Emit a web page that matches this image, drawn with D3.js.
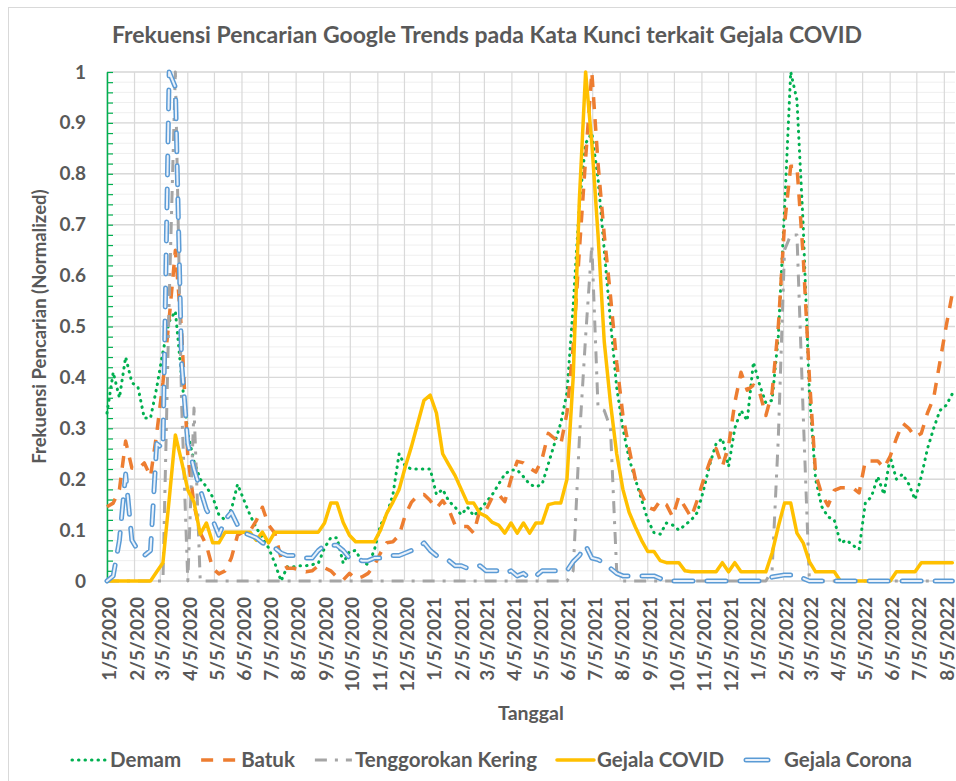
<!DOCTYPE html>
<html>
<head>
<meta charset="utf-8">
<script src="https://cdn.jsdelivr.net/npm/d3@7"></script>
<style>
  body { margin: 0; background: #fff; }
  svg { display: block; font-family: Lato, "Open Sans", sans-serif; font-weight: 700; }
</style>
</head>
<body>
<div id="chart"></div>
<script>
// weekly Google Trends data, first week 5 Jan 2020, last week 14 Aug 2022
const firstWeek = new Date(2020, 0, 5);
const lastWeek = new Date(2022, 7, 14);

const tickLabels = [
  "1/5/2020", "2/5/2020", "3/5/2020", "4/5/2020", "5/5/2020", "6/5/2020", "7/5/2020", "8/5/2020",
  "9/5/2020", "10/5/2020", "11/5/2020", "12/5/2020", "1/5/2021", "2/5/2021", "3/5/2021", "4/5/2021",
  "5/5/2021", "6/5/2021", "7/5/2021", "8/5/2021", "9/5/2021", "10/5/2021", "11/5/2021", "12/5/2021",
  "1/5/2022", "2/5/2022", "3/5/2022", "4/5/2022", "5/5/2022", "6/5/2022", "7/5/2022", "8/5/2022"
];

const seriesNames = ["Demam", "Batuk", "Tenggorokan Kering", "Gejala COVID", "Gejala Corona"];

const demam = [
  0.33, 0.41, 0.36, 0.44, 0.39, 0.38, 0.32, 0.32, 0.38, 0.45,
  0.51, 0.53, 0.40, 0.29, 0.235, 0.20, 0.185, 0.165, 0.13, 0.12,
  0.14, 0.19, 0.16, 0.13, 0.105, 0.085, 0.065, 0.035, 0.0, 0.028,
  0.028, 0.03, 0.03, 0.032, 0.035, 0.065, 0.085, 0.085, 0.035, 0.058,
  0.06, 0.038, 0.032, 0.06, 0.11, 0.13, 0.17, 0.25, 0.225, 0.22,
  0.22, 0.22, 0.22, 0.17, 0.18, 0.157, 0.145, 0.13, 0.145, 0.128,
  0.14, 0.155, 0.17, 0.19, 0.21, 0.218, 0.218, 0.205, 0.19, 0.185,
  0.19, 0.23, 0.27, 0.31, 0.37, 0.54, 0.74, 0.86, 0.88, 0.79,
  0.65, 0.51, 0.38, 0.30, 0.24, 0.20, 0.16, 0.12, 0.095, 0.092,
  0.114, 0.11, 0.10, 0.11, 0.12, 0.135, 0.18, 0.23, 0.27, 0.28,
  0.225, 0.30, 0.335, 0.315, 0.43, 0.385, 0.35, 0.355, 0.48, 0.73,
  1.0, 0.945, 0.70, 0.37, 0.20, 0.146, 0.126, 0.12, 0.075, 0.08,
  0.07, 0.062, 0.153, 0.166, 0.205, 0.17, 0.244, 0.20, 0.21, 0.19,
  0.16, 0.205, 0.26, 0.30, 0.335, 0.345, 0.368
];

const batuk = [
  0.146, 0.153, 0.18, 0.275, 0.222, 0.22, 0.232, 0.205, 0.29, 0.39,
  0.515, 0.65, 0.49, 0.245, 0.15, 0.095, 0.07, 0.025, 0.014, 0.02,
  0.045, 0.09, 0.097, 0.098, 0.118, 0.145, 0.11, 0.094, 0.045, 0.025,
  0.025, 0.022, 0.018, 0.02, 0.03, 0.026, 0.02, 0.008, 0.002, 0.015,
  0.004, 0.008, 0.015, 0.03, 0.055, 0.075, 0.077, 0.09, 0.13, 0.155,
  0.168, 0.17, 0.158, 0.143, 0.158, 0.14, 0.11, 0.107, 0.107, 0.094,
  0.14, 0.14, 0.165, 0.17, 0.156, 0.2, 0.235, 0.232, 0.222, 0.214,
  0.24, 0.29, 0.28, 0.268, 0.33, 0.46, 0.65, 0.83, 1.0, 0.82,
  0.68, 0.56, 0.43, 0.325, 0.26, 0.2, 0.17, 0.145, 0.14, 0.158,
  0.15, 0.126, 0.166, 0.145, 0.125, 0.16, 0.2, 0.235, 0.26, 0.225,
  0.265, 0.35, 0.41, 0.375, 0.385, 0.37, 0.325, 0.37, 0.5, 0.7,
  0.815, 0.815, 0.64, 0.4, 0.21, 0.17, 0.148, 0.178, 0.183, 0.183,
  0.183, 0.173, 0.236, 0.236, 0.236, 0.222, 0.245, 0.28, 0.31, 0.3,
  0.283, 0.29, 0.33, 0.36, 0.43, 0.5, 0.565
];

const tenggorokanKering = [
  0, 0, 0, 0, 0, 0, 0, 0, 0, 0,
  0.55, 1.0, 0.35, 0, 0.34, 0, 0, 0, 0, 0,
  0, 0, 0, 0, 0, 0, 0, 0, 0, 0,
  0, 0, 0, 0, 0, 0, 0, 0, 0, 0,
  0, 0, 0, 0, 0, 0, 0, 0, 0, 0,
  0, 0, 0, 0, 0, 0, 0, 0, 0, 0,
  0, 0, 0, 0, 0, 0, 0, 0, 0, 0,
  0, 0, 0, 0, 0, 0.02, 0.28, 0.48, 0.66, 0.34,
  0.335, 0.3, 0.02, 0, 0, 0, 0, 0, 0, 0,
  0, 0, 0, 0, 0, 0, 0, 0, 0, 0,
  0, 0, 0, 0, 0, 0, 0, 0.02, 0.28, 0.65,
  0.68, 0.68, 0.33, 0, 0, 0, 0, 0, 0, 0,
  0, 0, 0, 0, 0, 0, 0, 0, 0, 0,
  0, 0, 0, 0, 0, 0, 0
];

const gejalaCovid = [
  0, 0, 0, 0, 0, 0, 0, 0, 0.018, 0.036,
  0.16, 0.287, 0.235, 0.179, 0.155, 0.092, 0.114, 0.075, 0.075, 0.096,
  0.096, 0.096, 0.096, 0.096, 0.08, 0.096, 0.075, 0.096, 0.096, 0.096,
  0.096, 0.096, 0.096, 0.096, 0.096, 0.114, 0.153, 0.153, 0.115, 0.09,
  0.077, 0.077, 0.077, 0.077, 0.1, 0.133, 0.155, 0.18, 0.225, 0.265,
  0.31, 0.355, 0.365, 0.33, 0.25, 0.228, 0.207, 0.18, 0.153, 0.153,
  0.133, 0.127, 0.115, 0.11, 0.094, 0.114, 0.094, 0.114, 0.094, 0.114,
  0.114, 0.15, 0.153, 0.153, 0.2, 0.4, 0.75, 1.0, 0.86, 0.68,
  0.47, 0.35, 0.25, 0.18, 0.135, 0.106, 0.08, 0.058, 0.058, 0.04,
  0.036, 0.036, 0.036, 0.02, 0.018, 0.018, 0.018, 0.018, 0.018, 0.036,
  0.018, 0.036, 0.018, 0.018, 0.018, 0.018, 0.018, 0.055, 0.107, 0.153,
  0.153, 0.094, 0.075, 0.038, 0.018, 0.018, 0.018, 0.018, 0, 0,
  0, 0, 0, 0, 0, 0, 0, 0.018, 0.018, 0.018,
  0.018, 0.036, 0.036, 0.036, 0.036, 0.036, 0.036
];

const gejalaCorona = [
  0, 0.01, 0.08, 0.21, 0.08, 0.06, 0.05, 0.06, 0.27, 0.26,
  1.0, 0.97, 0.43, 0.27, 0.22, 0.18, 0.14, 0.12, 0.09, 0.12,
  0.135, 0.11, 0.095, 0.09, 0.085, 0.075, 0.07, 0.065, 0.055, 0.05,
  0.05, 0.045, 0.045, 0.045, 0.06, 0.07, 0.07, 0.07, 0.06, 0.045,
  0.045, 0.04, 0.04, 0.045, 0.045, 0.045, 0.05, 0.05, 0.055, 0.06,
  0.065, 0.075, 0.06, 0.05, 0.045, 0.04, 0.03, 0.03, 0.025, 0.025,
  0.03, 0.02, 0.02, 0.02, 0.015, 0.02, 0.01, 0.015, 0.005, 0.01,
  0.02, 0.02, 0.02, 0.02, 0.02, 0.038, 0.05, 0.07, 0.045, 0.042,
  0.035, 0.025, 0.015, 0.01, 0.01, 0.01, 0.01, 0.01, 0.01, 0.005,
  0, 0, 0, 0, 0, 0, 0, 0, 0, 0,
  0, 0, 0, 0, 0, 0, 0, 0.008, 0.01, 0.012,
  0.012, 0.005, 0.005, 0, 0, 0, 0, 0, 0, 0,
  0, 0, 0, 0, 0, 0, 0, 0, 0, 0,
  0, 0, 0, 0, 0, 0, 0
];

const width = 956;
const height = 781;
const plot = { left: 107, right: 955, top: 72, bottom: 581 };
const textColor = "#595959";

const styles = [
  { color: "#00B050", width: 3, dash: "0.5,6", cap: "round" },
  { color: "#ED7D31", width: 3.5, dash: "12,10", cap: "butt" },
  { color: "#A5A5A5", width: 3, dash: "12,8,3,8", cap: "butt" },
  { color: "#FFC000", width: 3.5, dash: null, cap: "round" },
  { color: "#5B9BD5", width: 5, dash: "19,14", cap: "round", inner: "#EAF1FA" }
];

const weeks = d3.timeWeek.range(firstWeek, d3.timeDay.offset(lastWeek, 1));
const parseDate = d3.timeParse("%m/%d/%Y");
const tickDates = tickLabels.map(parseDate);
const allValues = [demam, batuk, tenggorokanKering, gejalaCovid, gejalaCorona];

const series = seriesNames.map((name, i) => ({
  name,
  style: styles[i],
  points: weeks.map((d, j) => ({ date: d, value: allValues[i][j] }))
}));

const svg = d3.select("#chart").append("svg")
  .attr("width", width)
  .attr("height", height);

// chart border
svg.append("rect")
  .attr("x", 8.5).attr("y", 7.5)
  .attr("width", 970).attr("height", 800)
  .attr("fill", "#fff")
  .attr("stroke", "#D9D9D9");

const x = d3.scaleTime()
  .domain([firstWeek, d3.timeDay.offset(firstWeek, 955)])
  .range([plot.left, plot.right]);

const y = d3.scaleLinear()
  .domain([0, 1])
  .range([plot.bottom, plot.top]);

const minorTicks = d3.range(0, 51).map(i => i / 50);
const majorTicks = d3.range(0, 11).map(i => i / 10);

// gridlines
const grid = svg.append("g").attr("class", "grid");
grid.selectAll("line.minor")
  .data(minorTicks)
  .enter().append("line")
  .attr("class", "minor")
  .attr("x1", plot.left).attr("x2", plot.right)
  .attr("y1", d => y(d)).attr("y2", d => y(d))
  .attr("stroke", "#EFEFEF").attr("stroke-width", 1);

grid.selectAll("line.vert")
  .data(tickDates)
  .enter().append("line")
  .attr("class", "vert")
  .attr("x1", d => x(d)).attr("x2", d => x(d))
  .attr("y1", plot.top).attr("y2", plot.bottom)
  .attr("stroke", "#D9D9D9").attr("stroke-width", 1.2);

grid.selectAll("line.major")
  .data(majorTicks)
  .enter().append("line")
  .attr("class", "major")
  .attr("x1", plot.left).attr("x2", plot.right)
  .attr("y1", d => y(d)).attr("y2", d => y(d))
  .attr("stroke", "#D9D9D9").attr("stroke-width", 1.4);

// y axis: green line with inside ticks, labels on the left
const yAxisLine = svg.append("g")
  .attr("transform", `translate(${plot.left},0)`)
  .call(d3.axisRight(y).tickValues(minorTicks).tickSize(6).tickSizeOuter(0).tickFormat(""));
yAxisLine.select(".domain").attr("stroke", "#00B050").attr("stroke-width", 1.5);
yAxisLine.selectAll(".tick line").attr("stroke", "#00B050").attr("stroke-width", 1.2);

const yLabels = svg.append("g")
  .attr("transform", `translate(${plot.left},0)`)
  .call(d3.axisLeft(y).tickValues(majorTicks).tickSize(0).tickPadding(21).tickFormat(d3.format("~g")));
yLabels.select(".domain").remove();
yLabels.selectAll("text")
  .attr("fill", textColor)
  .style("font-size", "19px")
  .style("font-family", "Lato")
  .style("font-weight", 700);

// x axis labels, rotated
const xLabels = svg.append("g")
  .attr("transform", `translate(0,${plot.bottom})`)
  .call(d3.axisBottom(x).tickValues(tickDates).tickSize(0).tickFormat((d, i) => tickLabels[i]));
xLabels.select(".domain").remove();
xLabels.selectAll("text")
  .attr("transform", "rotate(-90)")
  .attr("x", -16)
  .attr("y", 2)
  .attr("dy", "0.35em")
  .style("text-anchor", "end")
  .attr("fill", textColor)
  .style("font-size", "19px")
  .style("font-family", "Lato")
  .style("font-weight", 700);

// lines
const line = d3.line()
  .x(d => x(d.date))
  .y(d => y(d.value));

const lines = svg.append("g").attr("class", "lines");
series.forEach(s => {
  const st = s.style;
  lines.append("path")
    .datum(s.points)
    .attr("d", line)
    .attr("fill", "none")
    .attr("stroke", st.color)
    .attr("stroke-width", st.width)
    .attr("stroke-dasharray", st.dash)
    .attr("stroke-linecap", st.cap)
    .attr("stroke-linejoin", "round");
  if (st.inner) {
    lines.append("path")
      .datum(s.points)
      .attr("d", line)
      .attr("fill", "none")
      .attr("stroke", st.inner)
      .attr("stroke-width", 2)
      .attr("stroke-dasharray", st.dash)
      .attr("stroke-linecap", st.cap)
      .attr("stroke-linejoin", "round");
  }
});

// titles
svg.append("text")
  .attr("x", 487).attr("y", 43)
  .attr("text-anchor", "middle")
  .attr("fill", textColor)
  .style("font-size", "23px")
  .text("Frekuensi Pencarian Google Trends pada Kata Kunci terkait Gejala COVID");

svg.append("text")
  .attr("transform", `translate(46,${(plot.top + plot.bottom) / 2}) rotate(-90)`)
  .attr("text-anchor", "middle")
  .attr("fill", textColor)
  .style("font-size", "18.5px")
  .text("Frekuensi Pencarian (Normalized)");

svg.append("text")
  .attr("x", (plot.left + plot.right) / 2).attr("y", 720)
  .attr("text-anchor", "middle")
  .attr("fill", textColor)
  .style("font-size", "19.5px")
  .text("Tanggal");

// legend
const sampleLen = 37;
const legend = svg.append("g").attr("transform", "translate(0,760)");
const items = legend.selectAll("g")
  .data(series)
  .enter().append("g");

items.append("text")
  .attr("x", sampleLen + 3)
  .attr("dy", "0.35em")
  .attr("fill", textColor)
  .style("font-size", "20.5px")
  .text(d => d.name);

items.each(function(d) {
  const g = d3.select(this);
  const st = d.style;
  g.insert("line", "text")
    .attr("x1", st.cap === "round" && st.dash ? 2 : 0).attr("x2", st.inner ? 24 : sampleLen)
    .attr("stroke", st.color)
    .attr("stroke-width", st.width)
    .attr("stroke-dasharray", st.inner ? null : st.dash)
    .attr("stroke-linecap", st.cap);
  if (st.inner) {
    g.insert("line", "text")
      .attr("x1", 2).attr("x2", 24)
      .attr("stroke", st.inner)
      .attr("stroke-width", 2)
      .attr("stroke-linecap", "round");
  }
});

let offset = 0;
const positions = [];
items.each(function() {
  positions.push(offset);
  offset += sampleLen + 3 + this.querySelector("text").getComputedTextLength() + 20;
});
const legendWidth = offset - 20;
const legendStart = 491 - legendWidth / 2;
items.attr("transform", (d, i) => `translate(${legendStart + positions[i]},0)`);
</script>
</body>
</html>
